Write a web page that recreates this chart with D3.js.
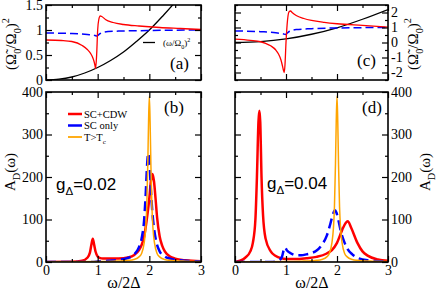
<!DOCTYPE html>
<html>
<head>
<meta charset="utf-8">
<script src="https://cdn.jsdelivr.net/npm/d3@7"></script>
<style>
body { margin: 0; background: #fff; }
svg { display: block; font-family: "Liberation Serif", "DejaVu Serif", serif; }
.tick line { stroke: #000; stroke-width: 1.2; }
.domain { display: none; }
</style>
</head>
<body>
<div id="chart"></div>
<script>

// DATA ---------------------------------------------------------------
// x = omega/2Delta

// panel (a) : g = 0.02, (Omega~/Omega0)^2
var aCdw = [[0,0.8],[0.3,0.79],[0.5,0.77],[0.7,0.69],[0.8,0.61],[0.87,0.52],[0.9,0.46],[0.93,0.37],[0.95,0.28],[0.96,0.23],[0.98,0.5],[1.0,1.0],[1.02,1.2],[1.05,1.28],[1.08,1.27],[1.15,1.21],[1.3,1.15],[1.5,1.11],[1.8,1.08],[2.2,1.05],[2.6,1.03],[3.0,1.01]]
var aSc = [[0,0.94],[0.5,0.93],[0.8,0.91],[0.95,0.89],[0.98,0.88],[1.05,0.93],[1.2,0.97],[1.5,0.98],[2.0,0.99],[3.0,1.0]]
var aFree = [[0,0],[0.25,0.016],[0.5,0.06],[0.75,0.14],[1.0,0.25],[1.25,0.39],[1.5,0.56],[1.75,0.77],[2.0,1.0],[2.25,1.27],[2.5,1.56],[2.6,1.69]]

// panel (c) : g = 0.04
var cCdw = [[0,0.22],[0.3,0.14],[0.5,0.05],[0.6,-0.06],[0.7,-0.22],[0.8,-0.5],[0.85,-0.75],[0.9,-1.15],[0.93,-1.55],[0.95,-1.85],[0.965,-2.0],[0.98,-1.5],[1.0,0],[1.03,1.5],[1.06,2.05],[1.09,2.1],[1.12,2.0],[1.2,1.8],[1.35,1.6],[1.5,1.47],[1.75,1.34],[2.0,1.25],[2.5,1.14],[3.0,1.03]]
var cSc = [[0,0.77],[0.5,0.72],[0.8,0.65],[0.95,0.57],[0.99,0.54],[1.05,0.7],[1.2,0.86],[1.5,0.92],[2.0,0.97],[3.0,1.0]]
var cFree = [[0,0],[0.5,0.06],[1.0,0.24],[1.5,0.55],[2.0,0.98],[2.5,1.55],[3.0,2.2]]

// panel (b) : A_D(omega), g = 0.02
var bCdw = [[0,0],[0.5,0.5],[0.7,3],[0.8,10],[0.85,22],[0.88,42],[0.905,55],[0.93,42],[0.96,24],[1.0,13],[1.05,9],[1.1,8],[1.3,8],[1.5,9],[1.6,11],[1.7,16],[1.8,28],[1.85,40],[1.9,60],[1.95,100],[2.0,150],[2.03,190],[2.06,207],[2.09,190],[2.12,150],[2.15,105],[2.2,60],[2.25,38],[2.3,25],[2.4,13],[2.5,8],[2.7,4],[3.0,2]]
var bSc = [[0,0],[0.9,0],[1.0,1],[1.2,3],[1.4,5],[1.6,10],[1.7,17],[1.8,35],[1.85,55],[1.9,100],[1.93,160],[1.96,235],[1.98,256],[2.0,238],[2.03,170],[2.06,115],[2.09,80],[2.13,50],[2.2,25],[2.3,13],[2.4,8],[2.6,4],[3.0,1]]
var bNormal = [[0,0],[0.5,0.5],[1.0,1],[1.3,2],[1.5,3],[1.6,4],[1.7,6],[1.8,12],[1.85,20],[1.9,45],[1.93,80],[1.95,130],[1.97,230],[1.985,330],[2.0,390],[2.015,330],[2.03,230],[2.05,130],[2.07,80],[2.1,45],[2.15,20],[2.2,12],[2.3,6],[2.4,4],[2.5,3],[2.7,2],[3.0,1]]

// panel (d) : A_D(omega), g = 0.04
var dCdw = [[0,0],[0.1,3],[0.2,10],[0.3,25],[0.35,45],[0.4,100],[0.43,200],[0.46,330],[0.478,356],[0.495,330],[0.52,200],[0.55,110],[0.6,55],[0.7,25],[0.8,14],[0.9,9],[1.0,7],[1.2,7],[1.4,9],[1.6,12],[1.8,20],[1.9,28],[2.0,45],[2.1,75],[2.17,92],[2.21,96],[2.28,80],[2.4,45],[2.5,25],[2.6,15],[2.8,6],[3.0,3]]
var dSc = [[0,0],[0.7,0],[0.85,3],[0.92,12],[0.96,30],[0.98,34],[1.02,27],[1.1,20],[1.2,16],[1.3,16],[1.4,18],[1.5,21],[1.6,27],[1.7,40],[1.8,62],[1.87,90],[1.92,112],[1.96,122],[1.99,116],[2.03,97],[2.08,70],[2.15,45],[2.2,32],[2.3,18],[2.4,10],[2.6,4],[3.0,1]]
var dNormal = bNormal

var xTicks = [0, 1, 2, 3]
var xMinor = [0.5, 1.5, 2.5]
var aTicks = [0, 0.5, 1, 1.5]
var aMinor = [0.25, 0.75, 1.25]
var cTicks = [-2, -1, 0, 1, 2]
var cMinor = [-2.5, -1.5, -0.5, 0.5, 1.5, 2.5]
var adTicks = [0, 100, 200, 300, 400]
var adMinor = [50, 150, 250, 350]

var legendLabels = ["SC+CDW", "SC only", "T>T"]
// END ----------------------------------------------------------------

var width = 436, height = 292
var red = "#ff0000", blue = "#0000ff", orange = "#ffa500"
var serif = "Liberation Serif"
var sans = "Liberation Sans"

var svg = d3.select("#chart").append("svg")
  .attr("width", width)
  .attr("height", height)

var clipN = 0

// text with sub / superscripts
function rich(t, parts, fs) {
  var off = 0
  parts.forEach(function(p) {
    var target = p[1] == "sub" ? fs * 0.3 : p[1] == "sup" ? -fs * 0.45 : 0
    t.append("tspan")
      .attr("dy", target - off)
      .style("font-size", (p[1] == "n" ? fs : fs * 0.68) + "px")
      .text(p[0])
    off = target
  })
  return t
}

function makePanel(o) {
  var x = d3.scaleLinear().domain([0, 3]).range(o.xr)
  var y = d3.scaleLinear().domain(o.yd).range(o.yr)
  var g = svg.append("g")
  var id = "clip" + (clipN++)

  g.append("clipPath").attr("id", id)
    .append("rect")
      .attr("x", o.xr[0]).attr("y", o.yr[1])
      .attr("width", o.xr[1] - o.xr[0]).attr("height", o.yr[0] - o.yr[1])

  var curves = g.append("g").attr("clip-path", "url(#" + id + ")")
  var line = d3.line()
    .x(function(d) { return x(d[0]) })
    .y(function(d) { return y(d[1]) })
    .curve(d3.curveMonotoneX)

  o.series.forEach(function(s) {
    curves.append("path")
      .datum(s.data)
      .attr("d", line)
      .attr("fill", "none")
      .attr("stroke", s.color)
      .attr("stroke-width", s.w)
      .attr("stroke-dasharray", s.dash || null)
      .attr("stroke-linejoin", "round")
  })

  // ticks on all four sides, pointing in
  function ax(axisFn, scale, vals, size, fmt, tr) {
    var a = g.append("g")
      .attr("transform", tr)
      .call(axisFn(scale).tickValues(vals).tickSize(-size).tickPadding(3)
        .tickFormat(fmt ? fmt : ""))
    a.attr("font-family", null).attr("font-size", null)
    a.selectAll("text")
      .style("font-family", serif)
      .style("font-size", "14px")
      .attr("fill", "#000")
  }
  var bottom = "translate(0," + o.yr[0] + ")", top = "translate(0," + o.yr[1] + ")"
  var left = "translate(" + o.xr[0] + ",0)", right = "translate(" + o.xr[1] + ",0)"
  var fmt = function(d) { return String(d) }

  ax(d3.axisBottom, x, xTicks, 6, o.xLabels ? fmt : null, bottom)
  ax(d3.axisBottom, x, xMinor, 3, null, bottom)
  ax(d3.axisTop, x, xTicks, 6, null, top)
  ax(d3.axisTop, x, xMinor, 3, null, top)
  ax(d3.axisLeft, y, o.yTicks, 6, o.side == "left" ? fmt : null, left)
  ax(d3.axisLeft, y, o.yMinor, 3, null, left)
  ax(d3.axisRight, y, o.yTicks, 6, o.side == "right" ? fmt : null, right)
  ax(d3.axisRight, y, o.yMinor, 3, null, right)

  g.append("rect")
    .attr("x", o.xr[0]).attr("y", o.yr[1])
    .attr("width", o.xr[1] - o.xr[0]).attr("height", o.yr[0] - o.yr[1])
    .attr("fill", "none").attr("stroke", "#000").attr("stroke-width", 1.6)

  g.append("text")
    .attr("x", o.tag[1]).attr("y", o.tag[2])
    .style("font-family", serif).style("font-size", "17px")
    .text(o.tag[0])

  return {x: x, y: y, g: g}
}

var pa = makePanel({
  xr: [46, 201], yr: [80, 5], yd: [0, 1.5],
  yTicks: aTicks, yMinor: aMinor, side: "left",
  tag: ["(a)", 170, 69],
  series: [
    {data: aFree, color: "#000", w: 1.3},
    {data: aSc, color: blue, w: 1.5, dash: "8,4"},
    {data: aCdw, color: red, w: 1.3}
  ]
})

var pb = makePanel({
  xr: [46, 201], yr: [262, 92], yd: [0, 400],
  yTicks: adTicks, yMinor: adMinor, side: "left", xLabels: true,
  tag: ["(b)", 164, 113],
  series: [
    {data: bCdw, color: red, w: 2.5},
    {data: bSc, color: blue, w: 2.5, dash: "10,5"},
    {data: bNormal, color: orange, w: 1.5}
  ]
})

var pc = makePanel({
  xr: [235, 388], yr: [80, 5], yd: [-2.5, 2.5],
  yTicks: cTicks, yMinor: cMinor, side: "right",
  tag: ["(c)", 357, 66],
  series: [
    {data: cFree, color: "#000", w: 1.3},
    {data: cSc, color: blue, w: 1.5, dash: "8,4"},
    {data: cCdw, color: red, w: 1.3}
  ]
})

var pd = makePanel({
  xr: [235, 388], yr: [262, 92], yd: [0, 400],
  yTicks: adTicks, yMinor: adMinor, side: "right", xLabels: true,
  tag: ["(d)", 362, 113],
  series: [
    {data: dCdw, color: red, w: 2.5},
    {data: dSc, color: blue, w: 2.5, dash: "10,5"},
    {data: dNormal, color: orange, w: 1.5}
  ]
})

// axis titles ---------------------------------------------------------
var omegaTitle = [["(Ω\u0303", "n"], ["0", "sub"], ["/Ω", "n"], ["0", "sub"], [")", "n"], ["2", "sup"]]
var adTitle = [["A", "n"], ["D", "sub"], ["(ω)", "n"]]

function vtitle(x, y, parts) {
  var t = svg.append("text")
    .attr("transform", "translate(" + x + "," + y + ") rotate(-90)")
    .attr("text-anchor", "middle")
    .style("font-family", serif)
  rich(t, parts, 15)
}
vtitle(16, 44, omegaTitle)
vtitle(15, 172, adTitle)
vtitle(418, 44, omegaTitle)
vtitle(430, 172, adTitle)

svg.selectAll("text.xt")
  .data([124, 312])
  .enter().append("text")
    .attr("class", "xt")
    .attr("x", function(d) { return d })
    .attr("y", 288)
    .attr("text-anchor", "middle")
    .style("font-family", serif)
    .style("font-size", "16px")
    .text("ω/2Δ")

// coupling labels
rich(svg.append("text").attr("x", 56).attr("y", 190).style("font-family", sans),
  [["g", "n"], ["Δ", "sub"], ["=0.02", "n"]], 17)
rich(svg.append("text").attr("x", 267).attr("y", 189).style("font-family", sans),
  [["g", "n"], ["Δ", "sub"], ["=0.04", "n"]], 17)

// legend in (b)
var legColors = [red, blue, orange]
var legY = [114, 125.5, 137]
legendLabels.forEach(function(l, i) {
  svg.append("line")
    .attr("x1", 68).attr("x2", 82).attr("y1", legY[i]).attr("y2", legY[i])
    .attr("stroke", legColors[i]).attr("stroke-width", i == 2 ? 1.8 : 2.5)
  var t = svg.append("text")
    .attr("x", 84).attr("y", legY[i] + 3.5)
    .style("font-family", serif)
  if (i == 2) rich(t, [[l, "n"], ["c", "sub"]], 10.5)
  else t.style("font-size", "10.5px").text(l)
})

// legend in (a)
svg.append("line")
  .attr("x1", 143).attr("x2", 155).attr("y1", 42.5).attr("y2", 42.5)
  .attr("stroke", "#000").attr("stroke-width", 1.3)
rich(svg.append("text").attr("x", 163).attr("y", 46).style("font-family", serif),
  [["(ω/Ω", "n"], ["0", "sub"], [")", "n"], ["2", "sup"]], 9)

</script>
</body>
</html>
